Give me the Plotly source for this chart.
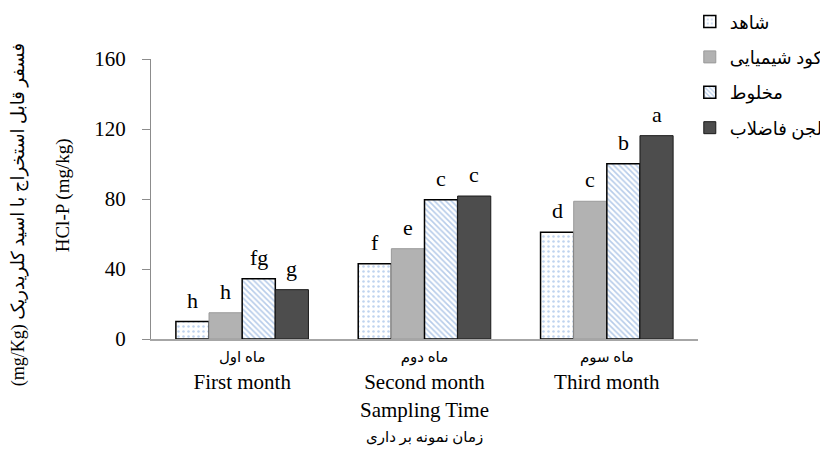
import plotly.graph_objects as go

categories = ["First month", "Second month", "Third month"]
categories_fa = ["ماه اول", "ماه دوم", "ماه سوم"]
series_names = ["شاهد", "کود شیمیایی", "مخلوط", "لجن فاضلاب"]
control = [10, 43, 61]
chemical = [15, 51.6, 78.7]
mixed = [34.5, 79.6, 100.2]
sludge = [28.2, 81.7, 116.2]
letters_control = ["h", "f", "d"]
letters_chemical = ["h", "e", "c"]
letters_mixed = ["fg", "c", "b"]
letters_sludge = ["g", "c", "a"]
y_ticks = [0, 40, 80, 120, 160]

# page body adds an 8px offset, so the figure is 8px smaller on each leading side
W, H = 820, 446
L, R, T, B = 143, 130, 51, 115
BARGAP = 0.273
SERIF = "Liberation Serif, 'Times New Roman', DejaVu Sans, serif"

values = [control, chemical, mixed, sludge]
letters = [letters_control, letters_chemical, letters_mixed, letters_sludge]
styles = [
    dict(color="white", line=dict(color="black", width=1.5),
         pattern=dict(shape=".", fgcolor="#7FA8DE", bgcolor="white", size=5, solidity=0.2)),
    dict(color="#B2B2B2", line=dict(color="#9A9A9A", width=1)),
    dict(color="white", line=dict(color="black", width=1.5),
         pattern=dict(shape="\\", fgcolor="#6F9AD4", bgcolor="white", size=4, solidity=0.4)),
    dict(color="#4D4D4D", line=dict(color="#1A1A1A", width=1)),
]

fig = go.Figure()
for i, (name, vals, st) in enumerate(zip(series_names, values, styles)):
    fig.add_trace(go.Bar(x=categories, y=vals, name=name, marker=st,
                         legendgroup=str(i)))

# letters above bars
plot_w = W - L - R
bar_px = plot_w / len(categories) * (1 - BARGAP) / len(series_names)
annotations = []
for i, (vals, lets) in enumerate(zip(values, letters)):
    for c, v, t in zip(categories, vals, lets):
        annotations.append(dict(x=c, y=v, xref="x", yref="y", text=t,
                                showarrow=False, yanchor="bottom", xanchor="center",
                                xshift=(i - (len(series_names) - 1) / 2) * bar_px,
                                yshift=7, font=dict(size=22, color="black", family=SERIF)))

ticktext = [f"<span style='font-size:15px'>{fa}</span><br>{en}" for fa, en in zip(categories_fa, categories)]

annotations += [
    dict(x=0.5, y=-0.252, xref="paper", yref="paper", text="Sampling Time",
         xanchor="center", yanchor="middle",
         showarrow=False, font=dict(size=21, color="black", family=SERIF)),
    dict(x=0.5, y=-0.352, xref="paper", yref="paper", text="زمان نمونه بر داری",
         xanchor="center", yanchor="middle",
         showarrow=False, font=dict(size=15, color="black", family=SERIF)),
    dict(x=-0.161, y=0.513, xref="paper", yref="paper", text="HCl-P (mg/kg)",
         xanchor="center", yanchor="middle",
         textangle=-90, showarrow=False, font=dict(size=19, color="black", family=SERIF)),
    dict(x=-0.243, y=0.442, xref="paper", yref="paper",
         text="(mg/Kg) فسفر قابل استخراج با اسید کلریدریک",
         xanchor="center", yanchor="middle",
         textangle=-90, showarrow=False, font=dict(size=18, color="black", family=SERIF)),
]

fig.update_layout(
    width=W, height=H,
    margin=dict(l=L, r=R, t=T, b=B, autoexpand=False),
    barmode="group", bargap=BARGAP, bargroupgap=0,
    plot_bgcolor="white", paper_bgcolor="white",
    font=dict(family=SERIF, color="black", size=21),
    showlegend=True,
    legend=dict(x=0.985, y=1.199, xanchor="left", yanchor="top",
                font=dict(size=18, color="black", family=SERIF),
                traceorder="grouped", tracegroupgap=9, bgcolor="rgba(0,0,0,0)"),
    annotations=annotations,
    xaxis=dict(tickmode="array", tickvals=categories, ticktext=ticktext,
               showline=True, linecolor="#A6A6A6", linewidth=1.5, ticks="",
               showgrid=False, ticklabelstandoff=-4,
               tickfont=dict(size=21, color="black", family=SERIF)),
    yaxis=dict(range=[0, 160], tickvals=y_ticks, showline=True, linecolor="#8C8C8C",
               linewidth=1, ticks="outside", ticklen=8, tickcolor="#8C8C8C",
               showgrid=False, zeroline=False, ticklabelstandoff=12,
               tickfont=dict(size=21, color="black", family=SERIF)),
)

fig.write_html("out.html")
